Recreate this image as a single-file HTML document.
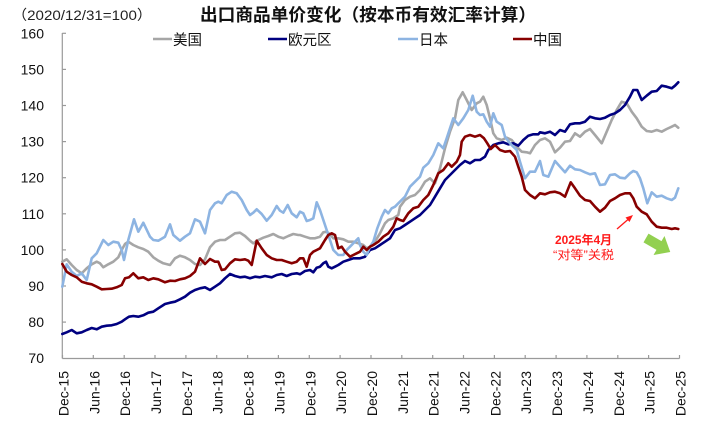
<!DOCTYPE html>
<html>
<head>
<meta charset="utf-8">
<style>
html,body{margin:0;padding:0;background:#fff;}
svg{display:block;}
text{font-family:"Liberation Sans","Noto Sans CJK SC",sans-serif;}
</style>
</head>
<body>
<svg width="708" height="426" viewBox="0 0 708 426" xmlns="http://www.w3.org/2000/svg">
<rect width="708" height="426" fill="#fff"/>
<!-- title -->
<text x="12" y="20" font-size="14" fill="#222" textLength="140" lengthAdjust="spacingAndGlyphs">（2020/12/31=100）</text>
<text x="200" y="21" font-size="17.5" font-weight="bold" fill="#111" textLength="336" lengthAdjust="spacingAndGlyphs">出口商品单价变化（按本币有效汇率计算）</text>

<!-- legend -->
<g font-size="14.5" fill="#111">
<line x1="153" y1="39" x2="172" y2="39" stroke="#a6a6a6" stroke-width="2.6"/>
<text x="173" y="45">美国</text>
<line x1="268" y1="39" x2="287" y2="39" stroke="#000080" stroke-width="2.6"/>
<text x="288" y="45">欧元区</text>
<line x1="398" y1="39" x2="418" y2="39" stroke="#8db4e2" stroke-width="2.6"/>
<text x="419" y="45">日本</text>
<line x1="513" y1="39" x2="532" y2="39" stroke="#870000" stroke-width="2.6"/>
<text x="533" y="45">中国</text>
</g>

<!-- axes -->
<g stroke="#9a9a9a" stroke-width="1.2" fill="none">
<line x1="62.3" y1="33" x2="62.3" y2="358.5"/>
<line x1="62.3" y1="358.5" x2="679.5" y2="358.5"/>
<!-- y ticks -->
<line x1="62.3" y1="33.3" x2="66" y2="33.3"/>
<line x1="62.3" y1="69.4" x2="66" y2="69.4"/>
<line x1="62.3" y1="105.5" x2="66" y2="105.5"/>
<line x1="62.3" y1="141.6" x2="66" y2="141.6"/>
<line x1="62.3" y1="177.7" x2="66" y2="177.7"/>
<line x1="62.3" y1="213.8" x2="66" y2="213.8"/>
<line x1="62.3" y1="249.9" x2="66" y2="249.9"/>
<line x1="62.3" y1="286.0" x2="66" y2="286.0"/>
<line x1="62.3" y1="322.1" x2="66" y2="322.1"/>
<!-- x ticks -->
<line x1="62.5" y1="355" x2="62.5" y2="358.5"/>
<line x1="93.3" y1="355" x2="93.3" y2="358.5"/>
<line x1="124.2" y1="355" x2="124.2" y2="358.5"/>
<line x1="155.0" y1="355" x2="155.0" y2="358.5"/>
<line x1="185.9" y1="355" x2="185.9" y2="358.5"/>
<line x1="216.7" y1="355" x2="216.7" y2="358.5"/>
<line x1="247.6" y1="355" x2="247.6" y2="358.5"/>
<line x1="278.4" y1="355" x2="278.4" y2="358.5"/>
<line x1="309.3" y1="355" x2="309.3" y2="358.5"/>
<line x1="340.1" y1="355" x2="340.1" y2="358.5"/>
<line x1="371.0" y1="355" x2="371.0" y2="358.5"/>
<line x1="401.8" y1="355" x2="401.8" y2="358.5"/>
<line x1="432.7" y1="355" x2="432.7" y2="358.5"/>
<line x1="463.5" y1="355" x2="463.5" y2="358.5"/>
<line x1="494.4" y1="355" x2="494.4" y2="358.5"/>
<line x1="525.2" y1="355" x2="525.2" y2="358.5"/>
<line x1="556.1" y1="355" x2="556.1" y2="358.5"/>
<line x1="586.9" y1="355" x2="586.9" y2="358.5"/>
<line x1="617.8" y1="355" x2="617.8" y2="358.5"/>
<line x1="648.6" y1="355" x2="648.6" y2="358.5"/>
<line x1="679.5" y1="355" x2="679.5" y2="358.5"/>
</g>

<!-- y labels -->
<g font-size="14" fill="#111" text-anchor="end">
<text x="44" y="38.3">160</text>
<text x="44" y="74.4">150</text>
<text x="44" y="110.5">140</text>
<text x="44" y="146.6">130</text>
<text x="44" y="182.7">120</text>
<text x="44" y="218.8">110</text>
<text x="44" y="254.9">100</text>
<text x="44" y="291.0">90</text>
<text x="44" y="327.1">80</text>
<text x="44" y="363.2">70</text>
</g>

<!-- x labels -->
<g font-size="14" fill="#111" text-anchor="end">
<text transform="translate(68.5,371) rotate(-90)">Dec-15</text>
<text transform="translate(99.3,371) rotate(-90)">Jun-16</text>
<text transform="translate(130.2,371) rotate(-90)">Dec-16</text>
<text transform="translate(161.0,371) rotate(-90)">Jun-17</text>
<text transform="translate(191.9,371) rotate(-90)">Dec-17</text>
<text transform="translate(222.7,371) rotate(-90)">Jun-18</text>
<text transform="translate(253.6,371) rotate(-90)">Dec-18</text>
<text transform="translate(284.4,371) rotate(-90)">Jun-19</text>
<text transform="translate(315.3,371) rotate(-90)">Dec-19</text>
<text transform="translate(346.1,371) rotate(-90)">Jun-20</text>
<text transform="translate(377.0,371) rotate(-90)">Dec-20</text>
<text transform="translate(407.8,371) rotate(-90)">Jun-21</text>
<text transform="translate(438.7,371) rotate(-90)">Dec-21</text>
<text transform="translate(469.5,371) rotate(-90)">Jun-22</text>
<text transform="translate(500.4,371) rotate(-90)">Dec-22</text>
<text transform="translate(531.2,371) rotate(-90)">Jun-23</text>
<text transform="translate(562.1,371) rotate(-90)">Dec-23</text>
<text transform="translate(592.9,371) rotate(-90)">Jun-24</text>
<text transform="translate(623.8,371) rotate(-90)">Dec-24</text>
<text transform="translate(654.6,371) rotate(-90)">Jun-25</text>
<text transform="translate(685.5,371) rotate(-90)">Dec-25</text>
</g>

<g fill="none" stroke-width="2.6" stroke-linejoin="round" stroke-linecap="round">
<!-- US gray -->
<polyline stroke="#a6a6a6" points="62.3,261.7 66.7,259.3 71.7,265 76.7,270 81.7,273.3 86.7,268.3 91.7,264.3 96.7,261.7 100,263.3 103.3,267.3 108.3,264.3 113.3,261.7 118.3,257.3 121.7,250 125,244 128.3,241.7 133.3,245 138.3,247.3 143.3,249 148.3,251.7 153.3,257.3 158.3,260.7 163.3,263.3 170,265 175,258.3 180,255.7 185,257.3 190,260 195,264 200,265 205,259.3 210,247.3 215,241.7 220,240 225,240 230,236.7 235,233.3 240,232.7 245,236 250,240.7 253.3,243.3 258.3,240 263.3,237.7 268.3,236 273.3,234 278.3,236.7 283.3,238.3 288.3,236 293.3,234 298.3,235 300,235 305,236.7 310,238.3 315,238.3 320,236.7 323.3,232.3 326.7,231.7 330,234.3 333.3,238.3 338.3,238.3 343.3,239.3 348.3,241.7 353.3,241.7 358.3,243.3 363.3,245 366.7,248.3 370,246.7 375,241.7 380,233.3 385,223.3 388.3,220 393.3,218.3 398.3,215 400,206.7 405,200 410,196.7 415,195 420,190 425,181.7 430,178.3 435,183.3 440,168.3 445,148.3 450,131.7 455,118.3 458.3,100 462.7,92.3 466.7,100 471.7,110 476.7,103.3 480,101.7 483.3,96.7 486.7,105 490,118.3 493.3,133.3 496.7,138.3 501.7,140 506.7,137.7 511.7,140 516.7,146.7 521.7,151.7 526.7,152.3 530,153.3 535,145 540,140 545,138.3 550,141.7 555,152.3 560,147.7 565,141.7 570,141 575,133.3 580,136.7 585,131.7 590,129 595,135 601.7,143.3 606.7,131.7 611.7,120 616.7,110 621.7,101.7 626.7,103.3 631.7,111.7 636.7,118.3 641.7,126.7 646.7,131 651.7,131.7 656.7,130 661.7,131.7 666.7,129 671.7,126.7 675,125 678.3,127.7"/>
<!-- Euro navy -->
<polyline stroke="#000080" points="62.3,334 66.7,332.3 71.7,330 76.7,333.3 81.7,332.3 86.7,330 91.7,328 96.7,329.3 101.7,326.7 106.7,325.7 111.7,325.3 116.7,324 121.7,321.7 125,319.3 129,316.7 133.3,316 138.3,316.7 143.3,315.3 148.3,312.7 153.3,311.7 158.3,308.3 165,304 170,302.7 175,301.7 180,299.3 185,296.7 190,292.7 195,290 200,288.3 205,287.3 210,290 215,286.7 220,283.3 225,278.3 230,274 235,276 240,277.3 245,276.7 250,278.3 255,276.7 260,277.3 265,276 271.7,277.3 276.7,275 281.7,274 286.7,276 291.7,274 296.7,273.3 300,274.3 305,271 310,270 313.3,272.3 316.7,267.7 320,266.7 323.3,263.3 326,261.7 328.3,266.7 331.7,268.3 335,266.7 338.3,265 343.3,261.7 348.3,260 353.3,258.3 356.7,258.3 360,258.3 365,256.7 370,250 375,248.3 380,245 385,241.7 390,238.3 395,230 400,228.3 405,225 410,221.7 415,218.3 420,215 425,210 430,205 435,196.7 440,188.3 445,180 450,175 455,170 460,165 465,161 470,163.3 475,160 480,160 485,156.7 488.3,150 493.3,145 498.3,143.3 503.3,142.3 508.3,144.3 513.3,143.3 518.3,145.7 523.3,140 528.3,135.7 533.3,134.3 538.3,134.3 540,132.3 545,133.3 550,131.7 555,135 560,130 565,131.7 570,124.3 575,123.3 580,123.3 585,121.7 590,116.7 595,118.3 600,119 605,117.7 610,115 615,113.3 620,110 625,105 630,96.7 633.3,90 637.3,90 641.7,100 646.7,95.7 651.7,91.7 656.7,91 661.7,85.7 666.7,86.7 671.7,88.3 675,85.7 678.3,82.3"/>
<!-- Japan light blue -->
<polyline stroke="#8db4e2" points="62.3,286.7 66.7,264.3 71.7,271.7 76.7,276 81.7,273.3 86.7,280 91.7,258.3 96.7,253.3 103.3,240 108.3,245 113.3,241.7 118.3,242.7 121.7,250 124,260 128.3,240 134,219.3 138.3,231.7 143.3,222.7 150,236.7 153.3,240 158.3,240.7 165,236.7 170,224.3 173.3,235 180,240.7 185,236.7 190,233.3 195,219.3 200,221.7 205,233.3 210,210 215,203.3 218.3,201.7 221.7,203.3 226.7,195 231.7,191.7 236.7,193.3 241.7,200 246.7,210 250,215 253.3,212.7 256.7,209.3 261.7,214 266.7,220.7 271.7,215 276.7,206 280,210.7 283.3,212.7 287.7,205 291.7,213.3 296.7,217.3 300,211.7 303.3,213.3 306.7,221 310,220 313.3,218.3 316.7,202.3 320,210 325,225 330,240 333.3,250 338.3,255 343.3,255 346.7,250 350,246.7 353.3,243.3 358.3,238.3 360,245 363.3,251.7 366.7,255 370,246.7 373.3,241.7 377.3,228.3 381.7,216.7 385,210 388.3,213.3 391.7,208.3 395,206.7 398.3,203.3 405,196.7 410,186.7 415,181.7 420,176.7 423.3,167.7 428.3,163.3 433.3,155 438.3,143.3 443.3,148.3 446.7,138.3 450,128.3 453.3,118.3 458.3,125 463.3,118.3 468.3,110 472.7,95.7 476.7,111.7 480,115 483.3,114.3 486.7,121.7 490,126.7 493.3,113.3 496.7,121.7 501.7,125 505,136.7 510,143.3 513.3,146.7 516.7,150 520,161.7 525,178.3 530,171.7 535,171.7 540,161 543.3,175 548.3,176.7 555,161 560,166.7 565,172.3 570,165.7 575,169.3 580,170 585,172.3 590,174.3 595,173.3 600,185 605,184.3 610,175 615,174.3 620,177.7 625,178.3 630,173.3 633.3,171 636.7,172.3 640,178.3 643.3,188.3 647.3,203.3 651.7,192.3 656.7,196.7 661.7,195.7 666.7,198.3 671.7,200 675,197.7 678.3,188.3"/>
<!-- China dark red -->
<polyline stroke="#870000" points="62.3,264 66.7,271.7 71.7,275 76.7,277.3 81.7,281.7 86.7,283.3 91.7,284.3 96.7,286.7 101.7,289.3 106.7,289 111.7,288.7 116.7,287.3 121.7,285 125,278.3 129,277.3 133.3,273.3 138.3,278.3 143.3,277.3 148.3,280 153.3,278.3 158.3,279.3 165,282.3 170,280.7 175,281 180,279.3 185,278.3 190,276 195,271.7 200,258.3 205,264 210,259 215,261.7 218.3,261.7 221.7,270 225,269.3 230,263.3 235,259.3 240,260 245,259.3 248.3,260.7 251.7,265 256.7,240.7 261.7,248.3 266.7,255 271.7,258.3 276.7,260 281.7,260 286.7,261.7 291.7,263.3 296.7,261.7 300,258.3 303.3,258.3 306.7,266.7 310,255 313.3,251.7 316.7,250 320,248.3 325,240 328.3,235 331.7,233.3 335,235 338.3,248.3 341.7,246.7 345,251.7 350,256.7 353.3,255 356.7,253.3 360,251.7 363.3,246.7 366.7,250 370,246.7 373.3,245 378.3,241.7 383.3,236.7 388.3,233.3 393.3,226.7 396.7,218.3 400,220 403.3,221 408.3,213.3 413.3,208.3 418.3,206.7 423.3,200 428.3,195 433.3,185 438.3,173.3 443.3,170 448.3,163.3 451.7,166.7 456.7,161.7 460,155 461.7,141.7 465,136.7 470,135 475,136.7 480,135 484,138.3 487.3,143.3 490.7,149 495,145 500,150 505,151.7 510,151 515,156.7 518.3,166.7 521.7,176.7 525,190 530,195 535,198.3 540,193.3 545,194.3 550,192.3 555,191.7 560,193.3 565,196.7 570.7,182.3 575,188.3 580,195.7 585,200 590,201 595,206.7 600,211.7 605,207.7 610,201 615,198.3 620,195 625,193.3 630,193.3 633.3,198.3 636.7,206.7 641.7,211.7 646.7,214.3 651.7,221.7 656.7,226.7 661.7,227.7 666.7,227.7 671.7,229 675,228.3 678.3,229"/>
</g>

<!-- annotation -->
<line x1="617" y1="229" x2="630" y2="217.7" stroke="#ff1a1a" stroke-width="1.3"/>
<polygon points="633,215 625.5,217.5 629.5,222" fill="#ff1a1a"/>
<text x="555" y="244" font-size="12" font-weight="bold" fill="#ff1a1a" textLength="57" lengthAdjust="spacingAndGlyphs">2025年4月</text>
<text x="553" y="259" font-size="12" fill="#ff1a1a" textLength="61" lengthAdjust="spacingAndGlyphs">“对等”关税</text>

<!-- green arrow -->
<g transform="translate(646,238) rotate(30)">
<polygon points="0,-5 15,-5 15,-11 28,0 15,11 15,5 0,5" fill="#92d050"/>
</g>
</svg>
</body>
</html>
